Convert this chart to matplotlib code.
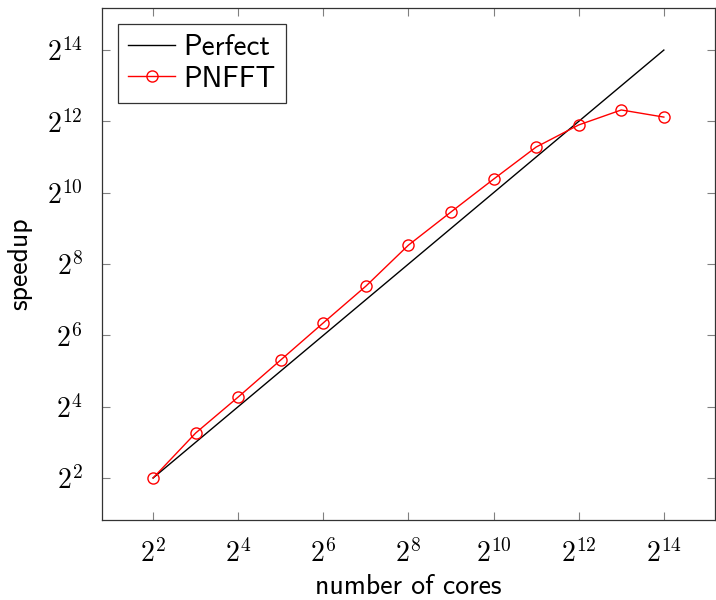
import numpy as np
import matplotlib.pyplot as plt
from matplotlib.ticker import FixedLocator, FuncFormatter

plt.rcParams['mathtext.fontset'] = 'cm'

# data (log2 of cores / speedup)
cores_exp = [2, 3, 4, 5, 6, 7, 8, 9, 10, 11, 12, 13, 14]
pnfft_exp = [2.0, 3.26, 4.27, 5.31, 6.35, 7.38, 8.53, 9.46, 10.38, 11.28, 11.90, 12.32, 12.12]
perfect_exp = [2, 14]

cores = [2.0 ** e for e in cores_exp]
pnfft = [2.0 ** e for e in pnfft_exp]
perfect = [2.0 ** e for e in perfect_exp]

fig = plt.figure(figsize=(7.16, 6.0), dpi=100)
ax = fig.add_axes([0.1425, 0.1333, 0.856, 0.8534])

ax.plot(perfect, perfect, color='black', lw=1.0, label='Perfect')
ax.plot(cores, pnfft, color='red', lw=1.0, marker='o', ms=8, mfc='none',
        mec='red', mew=1.0, label='PNFFT')

ax.set_xscale('log', base=2)
ax.set_yscale('log', base=2)
ax.set_xlim(2 ** 0.8, 2 ** 15.2)
ax.set_ylim(2 ** 0.82, 2 ** 15.18)

ticks = [2.0 ** e for e in range(2, 15, 2)]
fmt = FuncFormatter(lambda v, p: r'$2^{%d}$' % round(np.log2(v)))
for axis in (ax.xaxis, ax.yaxis):
    axis.set_major_locator(FixedLocator(ticks))
    axis.set_major_formatter(fmt)
    axis.set_minor_locator(FixedLocator([]))

ax.tick_params(which='both', direction='in', top=True, right=True,
               length=6, width=0.8, color='#808080', labelsize=20, pad=14)
for s in ax.spines.values():
    s.set_linewidth(0.9)
    s.set_color('#333333')

ax.set_xlabel('number of cores', fontfamily='cmss10', fontsize=20, labelpad=4)
ax.set_ylabel('speedup', fontfamily='cmss10', fontsize=20, labelpad=10)

leg = ax.legend(loc='upper left', prop={'family': 'cmss10', 'size': 21},
                fancybox=False, edgecolor='#333333', framealpha=1,
                borderpad=0.35, handlelength=1.6, handletextpad=0.3,
                labelspacing=0.15, borderaxespad=0.55)
leg.get_frame().set_linewidth(0.9)

fig.savefig('out.png', dpi=100)
